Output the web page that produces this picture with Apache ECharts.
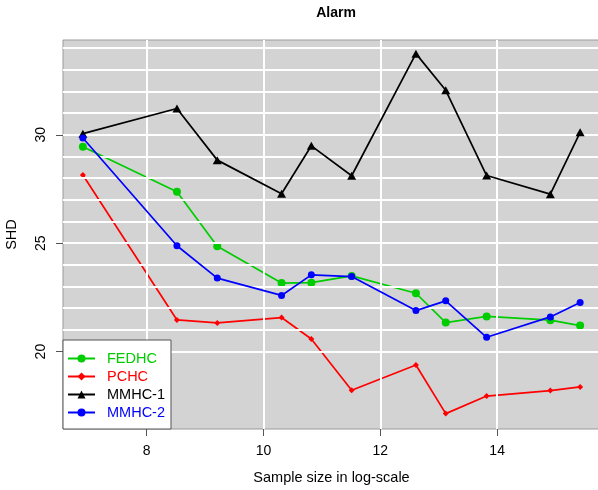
<!DOCTYPE html>
<html>
<head>
<meta charset="utf-8">
<script src="https://cdn.jsdelivr.net/npm/echarts@6/dist/echarts.min.js"></script>
<style>html,body{margin:0;padding:0;background:#fff;}#c{width:598px;height:490px;}</style>
</head>
<body>
<div id="c"></div>
<script>
// Data (x = log sample size)
const xVals   = [6.91, 8.52, 9.21, 10.31, 10.82, 11.51, 12.61, 13.12, 13.82, 14.91, 15.42];
const fedhc   = [29.45, 27.37, 24.86, 23.16, 23.18, 23.49, 22.69, 21.34, 21.62, 21.45, 21.20];
const pchc    = [28.14, 21.46, 21.32, 21.57, 20.58, 18.22, 19.38, 17.14, 17.95, 18.20, 18.37];
const mmhc1   = [30.05, 31.21, 28.83, 27.28, 29.49, 28.11, 33.74, 32.05, 28.12, 27.26, 30.11];
const mmhc2   = [29.85, 24.88, 23.39, 22.59, 23.54, 23.46, 21.89, 22.34, 20.66, 21.60, 22.26];
const seriesNames = ['FEDHC', 'PCHC', 'MMHC-1', 'MMHC-2'];
const xTicks  = [8, 10, 12, 14];
const yTicks  = [20, 25, 30];
const xGrid   = [8, 10, 12, 14];
const yGrid   = [20, 21, 22, 23, 24, 25, 26, 27, 28, 29, 30, 31, 32, 33, 34];
const xRange  = [6.57, 15.76];
const yRange  = [16.43, 34.37];

const FONT = 'Liberation Sans, Arial, Helvetica, sans-serif';
const colors = ['#00cd00', '#ff0000', '#000000', '#0000ff'];
const symbols = ['circle', 'diamond', 'triangle', 'circle'];
const sizes = [8, 6, [9, 8], 7];
const vals = [fedhc, pchc, mmhc1, mmhc2];

const pairs = v => xVals.map((x, i) => [x, v[i]]);

const gridLineData = yGrid.map(v => ({ yAxis: v })).concat(xGrid.map(v => ({ xAxis: v })));

const series = [{
  type: 'line', name: '__grid', data: [], z: 1, silent: true,
  markLine: {
    silent: true, symbol: ['none', 'none'], label: { show: false },
    lineStyle: { color: '#ffffff', width: 2, type: 'solid' },
    emphasis: { disabled: true },
    animation: false,
    data: gridLineData
  }
}].concat(seriesNames.map((n, k) => ({
  type: 'line', name: n, data: pairs(vals[k]), z: 3 + k,
  symbol: symbols[k], symbolSize: sizes[k], showSymbol: true,
  lineStyle: { color: colors[k], width: 1.7 },
  itemStyle: { color: colors[k] },
  emphasis: { disabled: true }
})));

const chart = echarts.init(document.getElementById('c'), null, { renderer: 'canvas' });
chart.setOption({
  animation: false,
  backgroundColor: '#ffffff',
  textStyle: { fontFamily: FONT },
  title: {
    text: 'Alarm', left: 331, top: 1, textAlign: 'center',
    textStyle: { fontFamily: FONT, fontWeight: 'bold', fontSize: 14, color: '#000' }
  },
  grid: {
    left: 63, top: 40, width: 537, height: 389,
    show: true, backgroundColor: '#d3d3d3', borderColor: '#9a9a9a', borderWidth: 1,
    containLabel: false, outerBoundsMode: 'none'
  },
  legend: {
    orient: 'vertical', left: 63, bottom: 61, z: 50,
    data: seriesNames.map((n, k) => ({ name: n, textStyle: { color: colors[k] } })),
    backgroundColor: '#ffffff', borderColor: '#555555', borderWidth: 1,
    padding: [11, 6, 9, 4], itemGap: 3, itemWidth: 27, itemHeight: 10,
    textStyle: { fontFamily: FONT, fontSize: 14.5, padding: [0, 0, 0, 7], lineHeight: 14 },
    selectedMode: false
  },
  xAxis: {
    type: 'value', min: xRange[0], max: xRange[1],
    name: 'Sample size in log-scale', nameLocation: 'middle', nameGap: 41,
    nameTextStyle: { fontFamily: FONT, fontSize: 14.5, color: '#000' },
    axisLine: { show: false },
    axisTick: { show: true, length: 7, inside: false, customValues: xTicks, lineStyle: { color: '#555', width: 1 } },
    axisLabel: { customValues: xTicks, margin: 15, fontFamily: FONT, fontSize: 14, color: '#000' },
    splitLine: { show: false }
  },
  yAxis: {
    type: 'value', min: yRange[0], max: yRange[1],
    name: 'SHD', nameLocation: 'middle', nameGap: 44, nameRotate: 90,
    nameTextStyle: { fontFamily: FONT, fontSize: 14.5, color: '#000' },
    axisLine: { show: false },
    axisTick: { show: true, length: 7, inside: false, customValues: yTicks, lineStyle: { color: '#555', width: 1 } },
    axisLabel: { customValues: yTicks, rotate: 90, margin: 15, fontFamily: FONT, fontSize: 14, color: '#000' },
    splitLine: { show: false }
  },
  series: series
});
</script>
</body>
</html>
